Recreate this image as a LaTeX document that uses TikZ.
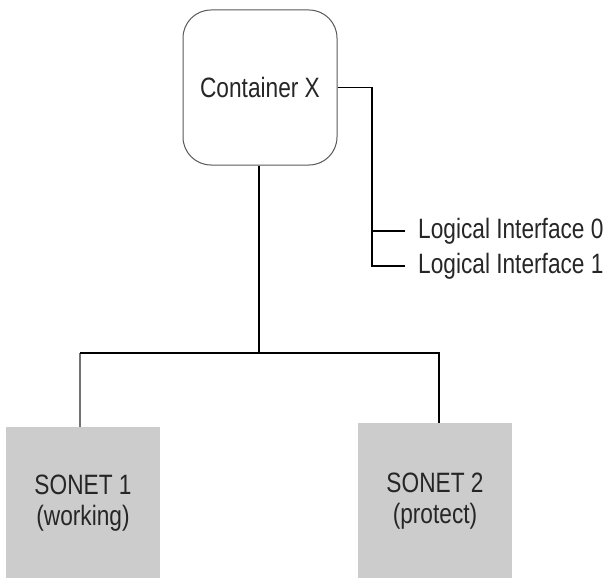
\documentclass[tikz,border=0pt]{standalone}
\usepackage{fontspec}
\setmainfont{Liberation Sans}[FakeStretch=0.81]
\begin{document}
\begin{tikzpicture}[x=1pt,y=-1pt,
  every node/.style={font=\fontsize{28}{31}\selectfont, text=black!85},
  wire/.style={draw=black, line width=1.3pt},
  container/.style={draw=black!65, line width=1pt, rounded corners=28pt,
    minimum width=154pt, minimum height=155pt, inner sep=0pt},
  port/.style={draw=none, fill=black!20, minimum width=154pt, inner sep=0pt,
    align=center},
  iflabel/.style={anchor=west, inner xsep=13pt, inner ysep=0pt}]
  \useasboundingbox (0,0) rectangle (606,578);
  \fill[white] (0,0) rectangle (606,578);

  % container and the two SONET ports
  \node[container] (cx) at (260,87.5) {Container X};
  \node[port, minimum height=153pt] (s1) at (83,503.5) {SONET 1\\(working)};
  \node[port, minimum height=157pt] (s2) at (435,501.5) {SONET 2\\(protect)};

  % logical interfaces
  \node[iflabel] (l0) at (405,231) {Logical Interface 0};
  \node[iflabel] (l1) at (405,266) {Logical Interface 1};
  \coordinate (tap) at (372,88);
  \coordinate (bus) at (259,353);

  % interface tree
  \draw[wire] (cx.east) -- (cx.east -| tap) |- (l1.west);
  \draw[wire] (l0.west) -- (l0.west -| tap);

  % port tree
  \draw[wire] (cx.south -| bus) -- (bus);
  \draw[wire, draw=black!55] (s1.north -| 80,0) -- (bus -| 80,0);
  \draw[wire] (bus -| 80,0) -- (bus -| 439,0) -- (s2.north -| 439,0);
\end{tikzpicture}
\end{document}
